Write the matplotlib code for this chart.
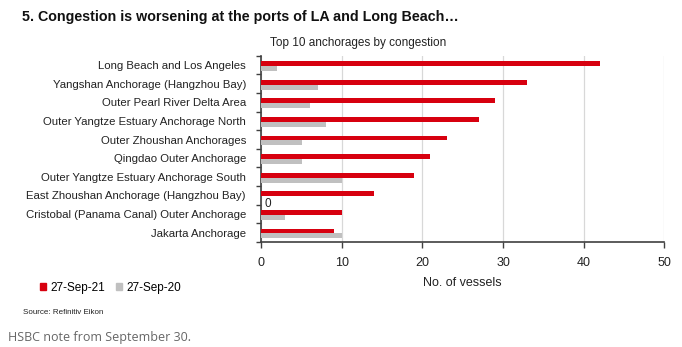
import numpy as np
import matplotlib.pyplot as plt
from matplotlib.patches import Rectangle

anchorages = ['Long Beach and Los Angeles', 'Yangshan Anchorage (Hangzhou Bay)',
              'Outer Pearl River Delta Area', 'Outer Yangtze Estuary Anchorage North',
              'Outer Zhoushan Anchorages', 'Qingdao Outer Anchorage',
              'Outer Yangtze Estuary Anchorage South', 'East Zhoushan Anchorage (Hangzhou Bay)',
              'Cristobal (Panama Canal) Outer Anchorage', 'Jakarta Anchorage']
sep21 = [42, 33, 29, 27, 23, 21, 19, 14, 10, 9]
sep20 = [2, 7, 6, 8, 5, 5, 10, 0, 3, 10]
xticks = [0, 10, 20, 30, 40, 50]

plt.rcParams['font.family'] = ['Liberation Sans', 'DejaVu Sans']

red = '#d7000f'
grey = '#c0c0c0'
axc = '#404040'

fig = plt.figure(figsize=(6.82, 3.47), dpi=100)
ax = fig.add_axes([0.383, 0.303, 0.591, 0.536])

y = np.arange(len(anchorages))
h = 0.26
ax.barh(y - h / 2 + 0.05, sep21, height=h, color=red, zorder=3, label='27-Sep-21')
ax.barh(y + h / 2 + 0.05, sep20, height=h, color=grey, zorder=3, label='27-Sep-20')
for yi, v in zip(y, sep20):
    if v == 0:
        # zero value gets a little label instead of a bar
        ax.text(0.4, yi + 0.45, '0', va='center', ha='left', fontsize=8.5, color='#222222')

ax.set_ylim(len(anchorages) - 0.5, -0.5)
ax.set_xlim(0, 50)
ax.set_yticks(y)
ax.set_yticklabels(anchorages, fontsize=8.2, color='#222222')
ax.set_yticks(np.arange(-0.5, len(anchorages)), minor=True)
ax.tick_params(axis='y', which='major', length=0, pad=11)
ax.tick_params(axis='y', which='minor', length=3.5, color=axc, width=1)
ax.set_xticks(xticks)
ax.tick_params(axis='x', length=4, color=axc, width=1, labelsize=9, labelcolor='#222222', pad=7)
ax.grid(axis='x', color='#d8d8d8', lw=0.9, zorder=0)
for s in ['top', 'right']:
    ax.spines[s].set_visible(False)
for s in ['left', 'bottom']:
    ax.spines[s].set_color(axc)
    ax.spines[s].set_linewidth(1.2)
ax.set_xlabel('No. of vessels', fontsize=9, color='#222222', labelpad=6)

fig.text(0.032, 0.951, '5. Congestion is worsening at the ports of LA and Long Beach\u2026',
         fontsize=10.3, fontweight='bold', va='center', color='#111111')
fig.text(0.525, 0.876, 'Top 10 anchorages by congestion', fontsize=8.5, ha='center',
         va='center', color='#222222')

leg = fig.legend(handles=[Rectangle((0, 0), 1, 1, color=red), Rectangle((0, 0), 1, 1, color=grey)],
                 labels=['27-Sep-21', '27-Sep-20'], loc='center left',
                 bbox_to_anchor=(0.043, 0.17), ncol=2, frameon=False, fontsize=8.5,
                 handlelength=0.55, handleheight=0.55, handletextpad=0.35, columnspacing=0.9)
fig.text(0.034, 0.098, 'Source: Refinitiv Eikon', fontsize=5.8, va='center', color='#222222')
fig.text(0.012, 0.026, 'HSBC note from September 30.', fontsize=9, va='center',
         color='#666666', family=['Open Sans', 'DejaVu Sans'])

fig.savefig('out.png', dpi=100)
